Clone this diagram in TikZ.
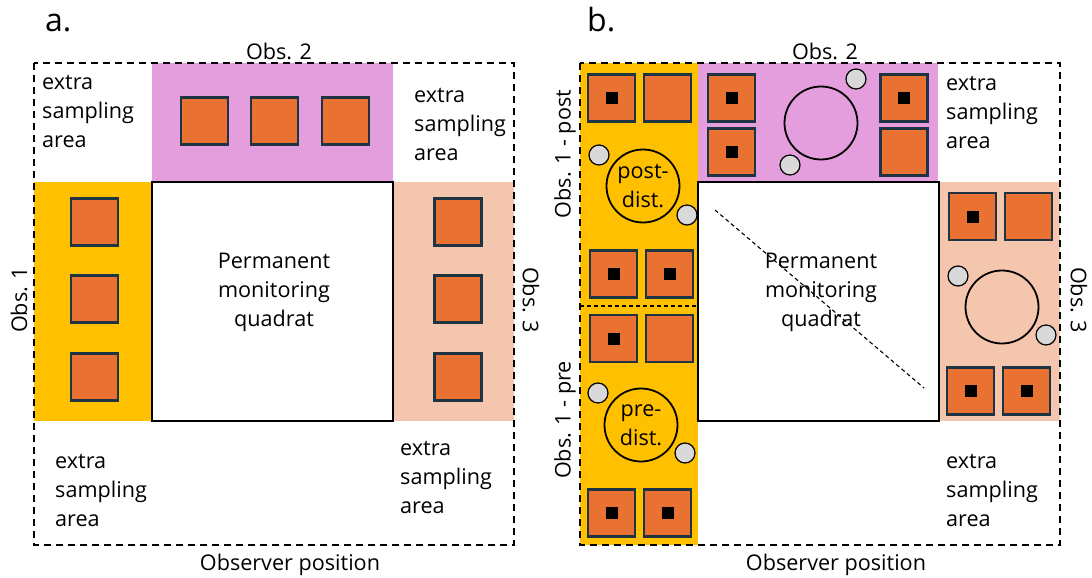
\documentclass[tikz,border=0pt]{standalone}
\usepackage{fontspec}
\setmainfont{Open Sans}

\definecolor{obsone}{HTML}{FFC000}
\definecolor{obstwo}{HTML}{E59EDD}
\definecolor{obsthree}{HTML}{F5C6AE}
\definecolor{plotfill}{HTML}{E97132}
\definecolor{plotedge}{HTML}{1E3443}
\definecolor{stone}{HTML}{D9D9D9}

\begin{document}
\begin{tikzpicture}[x=1pt,y=-1pt,
		subplot/.style={draw=plotedge,fill=plotfill,line width=2.4pt,minimum size=47pt,inner sep=0pt},
		centremark/.style={fill=black,minimum size=12pt,inner sep=0pt},
		rock/.style={circle,draw=black,fill=stone,line width=1.2pt,minimum size=20pt,inner sep=0pt},
		ring/.style={circle,draw=black,line width=1.8pt,minimum size=73pt,inner sep=0pt},
		quadrat/.style={draw=black,fill=white,line width=2pt,minimum width=241pt,minimum height=239pt,inner sep=0pt},
		lbl/.style={font=\fontsize{21.6}{29}\selectfont,inner sep=0pt},
		area/.style={lbl,align=left,anchor=west},
		border/.style={dash pattern=on 7pt off 5pt,line width=1.8pt}]
		\useasboundingbox (0,0) rectangle (1092,578);

		% panel a
		\fill[obstwo] (152,63) rectangle (393,182);
		\fill[obsone] (34,182) rectangle (152,421);
		\fill[obsthree] (393,182) rectangle (514,421);
		\node[quadrat] (aquad) at (272.5,301.5) {};

		\node[subplot] (a21) at (204.5,121) {};
		\node[subplot] (a22) at (274.5,121) {};
		\node[subplot] (a23) at (345.5,121) {};

		\node[subplot] (a11) at (94.5,222) {};
		\node[subplot] (a12) at (94.5,299) {};
		\node[subplot] (a13) at (94.5,377) {};

		\node[subplot] (a31) at (458,222) {};
		\node[subplot] (a32) at (458,299) {};
		\node[subplot] (a33) at (458,377) {};

		\draw[border] (34,63) rectangle (514,545);

		\node[lbl,font=\fontsize{32}{32}\selectfont,anchor=base west] (alabel) at (45,32) {a.};
		\node[lbl] (aobs2) at (279,51) {Obs. 2};
		\node[lbl,rotate=90] (aobs1) at (19,300) {Obs. 1};
		\node[lbl,rotate=-90] (aobs3) at (531,300) {Obs. 3};
		\node[lbl] (aobserver) at (290,565) {Observer position};
		\node[lbl,align=center] (aquadtext) at (274,292) {Permanent\\monitoring\\quadrat};
		\node[area] (aextra1) at (42,111) {extra\\sampling\\area};
		\node[area] (aextra2) at (414,124) {extra\\sampling\\area};
		\node[area] (aextra3) at (55,490) {extra\\sampling\\area};
		\node[area] (aextra4) at (400,477) {extra\\sampling\\area};

		% panel b
		\begin{scope}[xshift=546pt]
		\fill[obsone] (34,63) rectangle (152,545);
		\fill[obstwo] (152,63) rectangle (392,182);
		\fill[obsthree] (392,182) rectangle (514,421);
		\node[quadrat] (bquad) at (272,301.5) {};
		\draw[dash pattern=on 4pt off 3pt,line width=1.2pt] (34,306) -- (152,306);
		\draw[dash pattern=on 4pt off 3pt,line width=1.1pt] (169,210) -- (378,388);

		% obs 1 post
		\node[subplot] (bp1) at (65.5,98) {};
		\node[subplot] (bp2) at (121.5,98) {};
		\node[subplot] (bp3) at (67.5,274) {};
		\node[subplot] (bp4) at (123.5,274) {};
		\node[centremark] (bp1d) at (bp1) {};
		\node[centremark] (bp3d) at (bp3) {};
		\node[centremark] (bp4d) at (bp4) {};
		\node[ring] (bpost) at (97,186) {};
		\node[rock] (bpostr1) at (53,155) {};
		\node[rock] (bpostr2) at (141,215) {};

		% obs 1 pre
		\node[subplot] (bq1) at (67.5,338.5) {};
		\node[subplot] (bq2) at (123.5,338.5) {};
		\node[subplot] (bq3) at (65.5,513) {};
		\node[subplot] (bq4) at (121.5,513) {};
		\node[centremark] (bq1d) at (bq1) {};
		\node[centremark] (bq3d) at (bq3) {};
		\node[centremark] (bq4d) at (bq4) {};
		\node[ring] (bpre) at (95,425) {};
		\node[rock] (bprer1) at (52,393) {};
		\node[rock] (bprer2) at (139,453) {};

		% obs 2
		\node[subplot] (bt1) at (185.5,98) {};
		\node[subplot] (bt2) at (185.5,152) {};
		\node[subplot] (bt3) at (358,98) {};
		\node[subplot] (bt4) at (358,152) {};
		\node[centremark] (bt1d) at (bt1) {};
		\node[centremark] (bt2d) at (bt2) {};
		\node[centremark] (bt3d) at (bt3) {};
		\node[ring] (btop) at (275,123) {};
		\node[rock] (btopr1) at (310,79) {};
		\node[rock] (btopr2) at (244,165) {};

		% obs 3
		\node[subplot] (br1) at (426.5,216.5) {};
		\node[subplot] (br2) at (482.5,216.5) {};
		\node[subplot] (br3) at (424.5,391) {};
		\node[subplot] (br4) at (480.5,391) {};
		\node[centremark] (br1d) at (br1) {};
		\node[centremark] (br3d) at (br3) {};
		\node[centremark] (br4d) at (br4) {};
		\node[ring] (bright) at (456,307) {};
		\node[rock] (brightr1) at (412,276) {};
		\node[rock] (brightr2) at (500,335) {};

		\draw[border] (34,63) rectangle (514,545);

		\node[lbl,font=\fontsize{32}{32}\selectfont,anchor=base west] (blabel) at (41,32) {b.};
		\node[lbl] (bobs2) at (279,51) {Obs. 2};
		\node[lbl,rotate=90] (bobs1post) at (19,154) {Obs. 1 - post};
		\node[lbl,rotate=90] (bobs1pre) at (19,420) {Obs. 1 - pre};
		\node[lbl,rotate=-90] (bobs3) at (533,300) {Obs. 3};
		\node[lbl] (bobserver) at (290,565) {Observer position};
		\node[lbl,align=center] (bquadtext) at (275,292) {Permanent\\monitoring\\quadrat};
		\node[lbl,align=center] (bposttext) at (bpost) {post-\\dist.};
		\node[lbl,align=center] (bpretext) at (bpre) {pre-\\dist.};
		\node[area] (bextra1) at (400,112) {extra\\sampling\\area};
		\node[area] (bextra2) at (400,490) {extra\\sampling\\area};
		\end{scope}

	\end{tikzpicture}
\end{document}
